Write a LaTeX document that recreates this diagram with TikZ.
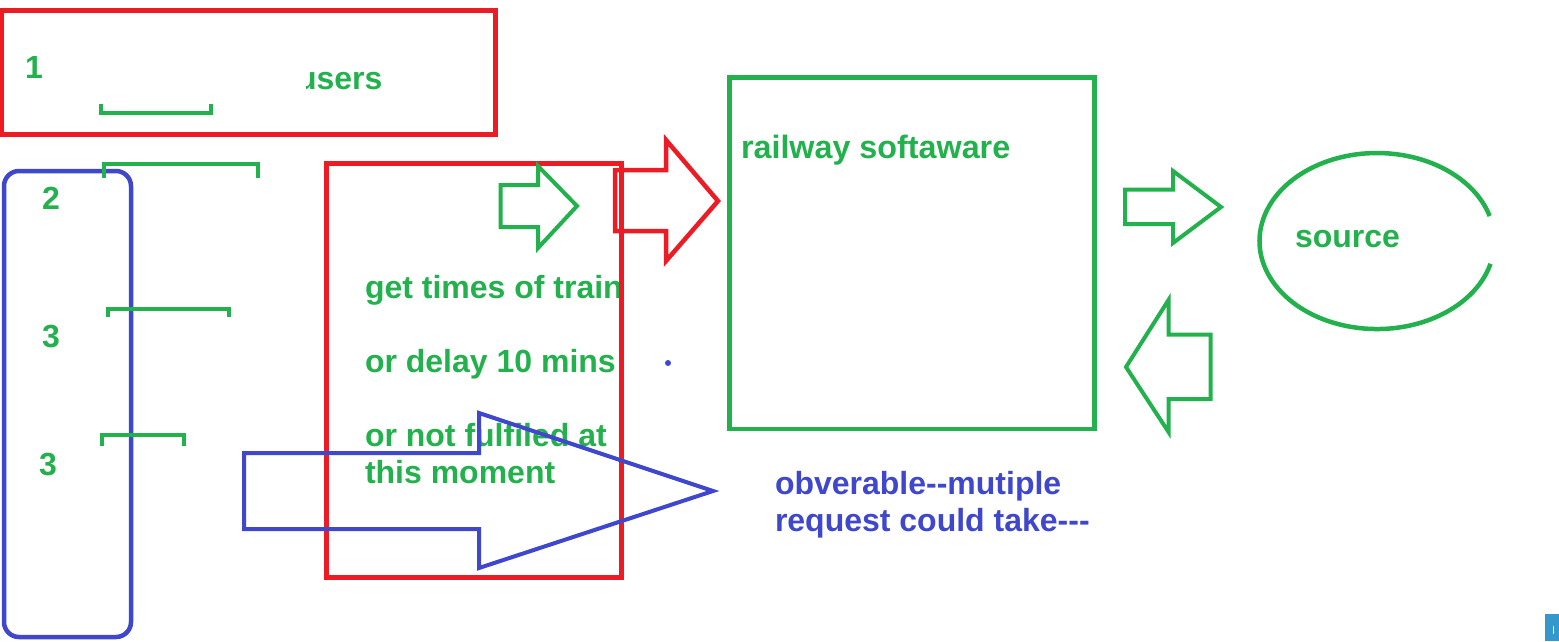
\documentclass[tikz,border=0pt]{standalone}
\usepackage{fontspec}
\setmainfont{Liberation Sans}
\definecolor{pgreen}{RGB}{34,177,76}
\definecolor{pred}{RGB}{237,28,36}
\definecolor{pblue}{RGB}{63,72,204}
\definecolor{picon}{RGB}{52,152,204}
\begin{document}
\begin{tikzpicture}[x=1pt,y=-1pt,
  lbl/.style={anchor=base west,inner sep=0pt,outer sep=0pt,font=\fontsize{32}{37}\selectfont\bfseries},
  gtxt/.style={lbl,text=pgreen},
  btxt/.style={lbl,text=pblue},
  redline/.style={draw=pred,line width=5pt},
  greenline/.style={draw=pgreen,line width=4.5pt},
  blueline/.style={draw=pblue,line width=4.5pt},
  bracketline/.style={draw=pgreen,line width=4pt},
  arrowshape/.style={line width=4pt,line join=miter}]
\useasboundingbox (0,0) rectangle (1559,641);
\fill[white] (0,0) rectangle (1559,641);

% top red box
\draw[redline] (1.5,10.5) rectangle (495,134);
\node[gtxt] (n1) at (25,78) {1};
\begin{scope}
  \clip (306,40) rectangle (480,110);
  \node[gtxt] (users) at (297,89) {users};
\end{scope}
\draw[bracketline] (100.5,104) -- (100.5,113) -- (210.5,113) -- (210.5,104);

% left blue rounded box and brackets
\draw[blueline,rounded corners=15pt] (4,171) rectangle (131,637);
\draw[bracketline] (104,178) -- (104,163.5) -- (258,163.5) -- (258,178);
\draw[bracketline] (108,317) -- (108,308.5) -- (229,308.5) -- (229,317);
\draw[bracketline] (102,446) -- (102,434.5) -- (184,434.5) -- (184,446);
\node[gtxt] (n2) at (42,209) {2};
\node[gtxt] (n3a) at (42,347) {3};
\node[gtxt] (n3b) at (39,475) {3};

% middle red box with texts
\begin{scope}
  \clip (300,250) rectangle (620,320);
  \node[gtxt] (t1) at (365,298) {get times of train};
\end{scope}
\node[gtxt] (t2) at (365,372) {or delay 10 mins};
\node[gtxt] (t3) at (365,446) {or not fulfiled at};
\node[gtxt] (t4) at (365,483) {this moment};
\draw[redline] (326.5,163.5) rectangle (621.5,577.5);

% small green arrow
\draw[arrowshape,draw=pgreen] (500.5,185) -- (538,185) -- (538,166) -- (577,206) -- (538,248) -- (538,227) -- (500.5,227) -- cycle;
% red arrow
\draw[arrowshape,draw=pred,line width=4.5pt] (615,170) -- (666,170) -- (666,140) -- (718,201) -- (666,261) -- (666,231) -- (615,231) -- cycle;

% blue big arrow
\draw[arrowshape,draw=pblue] (244,453) -- (479,453) -- (479,413) -- (713,491) -- (479,568) -- (479,529) -- (244,529) -- cycle;
\fill[pblue] (668,363) circle (3);

% railway software box
\draw[greenline] (729.5,77.5) rectangle (1094.5,429);
\node[gtxt,font=\fontsize{32.3}{37}\selectfont\bfseries] (rs) at (741,158) {railway softaware};
\node[btxt] (ob1) at (775,494) {obverable-{}-mutiple};
\node[btxt] (ob2) at (775,531) {request could take-{}-{}-};

% right arrows
\draw[arrowshape,draw=pgreen] (1125,189.5) -- (1173,189.5) -- (1173,171) -- (1221,207) -- (1173,243) -- (1173,224) -- (1125,224) -- cycle;
\draw[arrowshape,draw=pgreen] (1210.5,334.5) -- (1168.5,334.5) -- (1168.5,300) -- (1126,367) -- (1168.5,432) -- (1168.5,399) -- (1210.5,399) -- cycle;

% source ellipse (open on the right)
\draw[greenline] (1490.5,263.8) arc[start angle=15,end angle=343.5,x radius=117.5,y radius=88];
\node[gtxt] (src) at (1295,247) {source};

% corner icon
\fill[picon] (1545,614) rectangle (1559,641);
\draw[white,line width=1pt] (1553,626) -- (1553,634);
\end{tikzpicture}
\end{document}
